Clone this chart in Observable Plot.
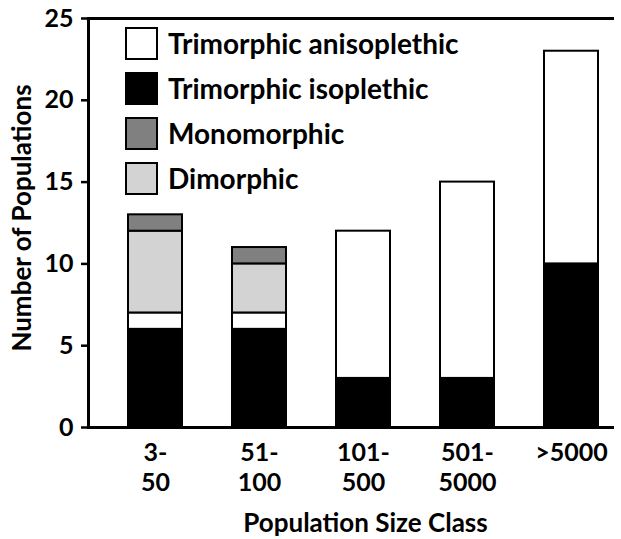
<!DOCTYPE html>
<html>
<head>
<meta charset="utf-8">
<script src="https://cdn.jsdelivr.net/npm/d3@7"></script>
<script src="https://cdn.jsdelivr.net/npm/@observablehq/plot@0.6"></script>
<style>
  html, body { margin: 0; padding: 0; background: #fff; }
  #wrap { position: relative; width: 621px; height: 539px; font-family: Lato, "Open Sans", sans-serif; font-weight: bold; }
  #legend { position: absolute; left: 125px; top: 27px; }
  .item { display: flex; align-items: center; height: 33px; margin-bottom: 12px; }
  .sw { width: 29px; height: 29px; border: 2px solid #000; margin-right: 10px; box-sizing: content-box; }
  .lab { font-size: 28px; color: #000; white-space: nowrap; line-height: 33px; }
</style>
</head>
<body>
<div id="wrap"><div id="legend"></div></div>
<script>
const categories = ["3-50", "51-100", "101-500", "501-5000", ">5000"];
const tickLabels = ["3-\n50", "51-\n100", "101-\n500", "501-\n5000", ">5000"];
const seriesNames = ["Trimorphic isoplethic", "Trimorphic anisoplethic", "Dimorphic", "Monomorphic"];
const seriesColors = ["#000000", "#ffffff", "#d3d3d3", "#808080"];
const isoplethic = [6, 6, 3, 3, 10];
const anisoplethic = [1, 1, 9, 12, 13];
const dimorphic = [5, 3, 0, 0, 0];
const monomorphic = [1, 1, 0, 0, 0];
const legendOrder = ["Trimorphic anisoplethic", "Trimorphic isoplethic", "Monomorphic", "Dimorphic"];
const yTicks = [0, 5, 10, 15, 20, 25];

const seriesValues = [isoplethic, anisoplethic, dimorphic, monomorphic];
const data = [];
seriesNames.forEach((s, si) => {
  categories.forEach((c, ci) => {
    const v = seriesValues[si][ci];
    if (v > 0) data.push({cat: c, series: s, value: v});
  });
});

const chart = Plot.plot({
  width: 621,
  height: 539,
  marginTop: 18,
  marginBottom: 112,
  marginLeft: 88,
  marginRight: 7,
  style: {fontFamily: "Lato, 'Open Sans', sans-serif", fontWeight: "bold", fontSize: "25px", color: "#000", background: "#fff"},
  x: {domain: categories, paddingInner: 0.48, paddingOuter: 0.259, align: 0.72},
  y: {domain: [0, 25]},
  color: {domain: seriesNames, range: seriesColors},
  marks: [
    Plot.barY(data, {x: "cat", y: "value", fill: "series", stroke: "#000", strokeWidth: 2, order: null, z: "series"}),
    Plot.axisY({ticks: yTicks, tickSize: 7, tickPadding: 8, strokeWidth: 2.5, fontSize: 25, label: null}),
    Plot.axisX({tickSize: 0, tickPadding: 12, fontSize: 25, lineHeight: 1.2, tickFormat: (d) => tickLabels[categories.indexOf(d)], label: null}),
    Plot.text(["Number of Populations"], {frameAnchor: "left", textAnchor: "middle", lineAnchor: "middle", rotate: -90, dx: -66, dy: -5, fontSize: 26, fontWeight: "bold"}),
    Plot.text(["Population Size Class"], {frameAnchor: "bottom", textAnchor: "middle", lineAnchor: "middle", dx: 14, dy: 96, fontSize: 26, fontWeight: "bold"}),
    Plot.ruleY([0], {strokeWidth: 3}),
    Plot.ruleY([25], {strokeWidth: 3}),
    Plot.frame({anchor: "left", strokeWidth: 3})
  ]
});
const wrap = document.getElementById("wrap");
wrap.insertBefore(chart, wrap.firstChild);

const legend = document.getElementById("legend");
legendOrder.forEach(name => {
  const item = document.createElement("div");
  item.className = "item";
  const sw = document.createElement("div");
  sw.className = "sw";
  sw.style.background = seriesColors[seriesNames.indexOf(name)];
  const lab = document.createElement("span");
  lab.className = "lab";
  lab.textContent = name;
  item.appendChild(sw);
  item.appendChild(lab);
  legend.appendChild(item);
});
</script>
</body>
</html>
